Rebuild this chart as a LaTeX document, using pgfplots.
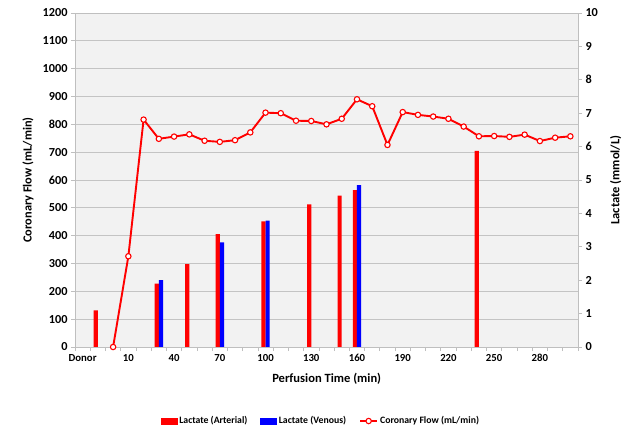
\documentclass[border=0pt]{standalone}
\usepackage{fontspec}
\setmainfont{Carlito}
\usepackage{pgfplots}
\pgfplotsset{compat=1.18}

\definecolor{plotbg}{HTML}{F2F2F2}
\definecolor{gridgray}{HTML}{C4C4C4}
\definecolor{axisgray}{HTML}{BFBFBF}

\pgfplotsset{
  chartbase/.style={
    scale only axis, width=503bp, height=334bp,
    xmin=-0.5, xmax=32.5,
    at={(0,0)}, anchor=south west,
    /pgf/number format/assume math mode=true,
    /pgf/number format/1000 sep={},
    tick align=outside, major tick length=4bp,
    tick style={axisgray, line width=0.75bp},
    axis line style={axisgray, line width=0.75bp},
  },
  redbox/.style={legend image code/.code={\fill[red] (0bp,-3bp) rectangle (16bp,3bp);}},
  bluebox/.style={legend image code/.code={\fill[blue] (0bp,-3bp) rectangle (16bp,3bp);}},
}

\begin{document}
\begin{tikzpicture}
\path[use as bounding box] (-75bp,-82bp) rectangle (548bp,347bp);

% base axis: background, grid, left axis, category ticks
\begin{axis}[chartbase,
    ymin=0, ymax=1200,
    axis background/.style={fill=plotbg},
    ymajorgrids, grid style={gridgray, line width=0.75bp},
    ytick={0,100,...,1200},
    ytick pos=left, xtick pos=bottom,
    yticklabel style={font=\fontsize{12.3}{14}\selectfont\bfseries},
    xtick={-0.5,0.5,...,32.5}, xticklabels={},
    extra x ticks={0,3,...,30},
    extra x tick labels={Donor,10,40,70,100,130,160,190,220,250,280},
    extra x tick style={tick style={draw=none},
      xticklabel style={font=\fontsize{10.8}{12}\selectfont\bfseries}},
    xlabel={Perfusion Time (min)},
    xlabel style={at={(axis description cs:0.5004,-0.0958)}, anchor=center,
      font=\fontsize{12.6}{14}\selectfont\bfseries},
    ylabel={Coronary Flow (mL/min)},
    ylabel style={at={(axis description cs:-0.0934,0.5)}, anchor=center,
      font=\fontsize{12.4}{14}\selectfont\bfseries},
]
\end{axis}

% lactate bars on the right axis
\begin{axis}[chartbase,
    ymin=0, ymax=10,
    axis y line*=right, axis x line=none,
    ytick={0,1,...,10},
    yticklabel style={font=\fontsize{12.3}{14}\selectfont\bfseries},
    ylabel={Lactate (mmol/L)},
    ylabel style={at={(axis description cs:1.075,0.5)}, anchor=center,
      font=\fontsize{12.6}{15}\selectfont\bfseries},
    ybar=0pt, bar width=4.2bp,
]
% arterial
\addplot[fill=red, draw=none] coordinates {
  (1,1.10) (5,1.90) (7,2.48) (9,3.38) (12,3.76) (15,4.27) (17,4.53) (18,4.70) (26,5.87)
};
% venous
\addplot[fill=blue, draw=none] coordinates {
  (5,2.00) (9,3.13) (12,3.78) (18,4.85)
};
\end{axis}

% coronary flow line + legend
\begin{axis}[chartbase,
    ymin=0, ymax=1200,
    hide axis, clip=false,
    legend columns=3,
    legend cell align=left,
    legend style={at={(axis description cs:0.489,-0.2216)}, anchor=center,
      draw=none, fill=none,
      font=\fontsize{9.8}{11}\selectfont,
      /tikz/every even column/.append style={column sep=11bp}},
]
\addlegendimage{redbox}
\addlegendentry{\textbf{Lactate (Arterial)}}
\addlegendimage{bluebox}
\addlegendentry{\textbf{Lactate (Venous)}}
\addplot[red, line width=1.9bp, mark=*, mark size=2.7bp,
    mark options={fill=white, draw=red, line width=1.1bp}] coordinates {
  (2,0) (3,326) (4,817) (5,748) (6,756) (7,764) (8,741) (9,737) (10,743)
  (11,771) (12,842) (13,840) (14,813) (15,812) (16,800) (17,820) (18,890)
  (19,865) (20,726) (21,844) (22,834) (23,828) (24,820) (25,792) (26,757)
  (27,758) (28,755) (29,763) (30,740) (31,752) (32,757)
};
\addlegendentry{\textbf{Coronary Flow (mL/min)}}
\end{axis}
\end{tikzpicture}
\end{document}
